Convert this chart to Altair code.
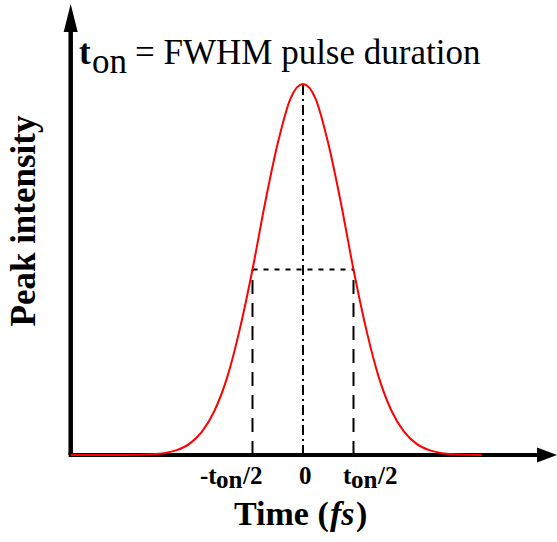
import altair as alt
import pandas as pd

# Pulse profile (time in units of t_on, intensity normalised to peak)
time = [-2.3, -1.75, -1.5, -1.375, -1.25, -1.125, -1.0, -0.875, -0.75, -0.625, -0.5, -0.375,
        -0.25, -0.125, 0.0, 0.125, 0.25, 0.375, 0.5, 0.625, 0.75, 0.875, 1.0, 1.125, 1.25,
        1.375, 1.5, 1.77]
intensity = [0.0, 0.0, 0.002, 0.005, 0.013, 0.03, 0.063, 0.12, 0.21, 0.34, 0.5, 0.68,
             0.84, 0.96, 1.0, 0.96, 0.84, 0.68, 0.5, 0.34, 0.21, 0.12, 0.063, 0.03, 0.013,
             0.005, 0.002, 0.0]

# FWHM markers
half_times = [-0.5, 0.5]
half_level = 0.5
peak_time = 0.0
peak_level = 1.0

# axis extents (data units)
axis_t0 = -2.3
axis_t1 = 2.35
axis_top = 1.16
xarrow_t = 2.416
yarrow_i = 1.178

W, H = 557, 542
xs = alt.Scale(domain=[-3.0, 2.5149], nice=False, zero=False)
ys = alt.Scale(domain=[-0.2345, 1.2264], nice=False, zero=False)

curve = pd.DataFrame({"t": time, "I": intensity})

def X(f="t"):
    return alt.X(f"{f}:Q", scale=xs, axis=None)

def Y(f="I"):
    return alt.Y(f"{f}:Q", scale=ys, axis=None)

# axes
yaxis = alt.Chart(pd.DataFrame({"t": [axis_t0], "I": [0.0], "I2": [axis_top]})).mark_rule(
    color="black", strokeWidth=4.5).encode(x=X(), y=Y(), y2="I2:Q")
xaxis = alt.Chart(pd.DataFrame({"t": [axis_t0 - 0.02], "t2": [axis_t1], "I": [0.0]})).mark_rule(
    color="black", strokeWidth=4).encode(x=X(), x2="t2:Q", y=Y())
yarrow = alt.Chart(pd.DataFrame({"t": [axis_t0], "I": [yarrow_i]})).mark_point(
    shape="M0,-1L0.5,1L-0.5,1Z", size=784, filled=True, color="black", opacity=1, strokeWidth=0
).encode(x=X(), y=Y())
xarrow = alt.Chart(pd.DataFrame({"t": [xarrow_t], "I": [0.0]})).mark_point(
    shape="M1,0L-1,-0.75L-1,0.75Z", size=400, filled=True, color="black", opacity=1, strokeWidth=0
).encode(x=X(), y=Y())

# marker lines
vdash = alt.Chart(pd.DataFrame({"t": half_times, "I": [0.0, 0.0], "I2": [half_level] * 2})).mark_rule(
    color="black", strokeWidth=2, strokeDash=[14, 9]).encode(x=X(), y=Y(), y2="I2:Q")
hdot = alt.Chart(pd.DataFrame({"t": [half_times[0]], "t2": [half_times[1]], "I": [half_level]})).mark_rule(
    color="black", strokeWidth=2, strokeDash=[5, 6]).encode(x=X(), x2="t2:Q", y=Y())
center = alt.Chart(pd.DataFrame({"t": [peak_time], "I": [0.0], "I2": [peak_level]})).mark_rule(
    color="black", strokeWidth=2, strokeDash=[10, 4, 2, 4]).encode(x=X(), y=Y(), y2="I2:Q")

line = alt.Chart(curve).mark_line(color="#ff0000", strokeWidth=2, interpolate="monotone").encode(
    x=X(), y=Y())

# text annotations (pixel positions)
def txt(rows, align="left", **kw):
    df = pd.DataFrame(rows, columns=["label", "px", "py"])
    return alt.Chart(df).mark_text(font="Liberation Serif", color="black", align=align,
                                   baseline="alphabetic", **kw).encode(
        x=alt.X("px:Q", scale=None), y=alt.Y("py:Q", scale=None), text="label:N")

title_b = txt([["t", 79, 64]], fontSize=35, fontWeight="bold")
title_r = txt([["on", 92, 73], ["= FWHM pulse duration", 135, 64]], fontSize=35)

ticks_b = txt([["-t", 200, 484], ["0", 299, 484], ["t", 343, 484]],
              fontSize=25, fontWeight="bold")
ticks_s = txt([["on", 216, 488], ["/2", 243, 484],
               ["on", 351, 488], ["/2", 378, 484]],
              fontSize=25, fontWeight="bold")

xt_b = txt([["Time (", 234, 525], [")", 356, 525]], fontSize=34, fontWeight="bold")
xt_i = txt([["fs", 330, 525]], fontSize=34, fontWeight="bold", fontStyle="italic")

yt = txt([["Peak intensity", 35, 221]], align="center", fontSize=35, fontWeight="bold", angle=270)

chart = alt.layer(
    vdash, hdot, center, yaxis, xaxis, yarrow, xarrow, line,
    title_b, title_r, ticks_b, ticks_s, xt_b, xt_i, yt
).properties(
    width=W, height=H, autosize=alt.AutoSizeParams(type="none"), padding=0, background="white"
).configure_view(stroke=None)

chart.save("out.html", embed_options={"renderer": "svg", "actions": False})
